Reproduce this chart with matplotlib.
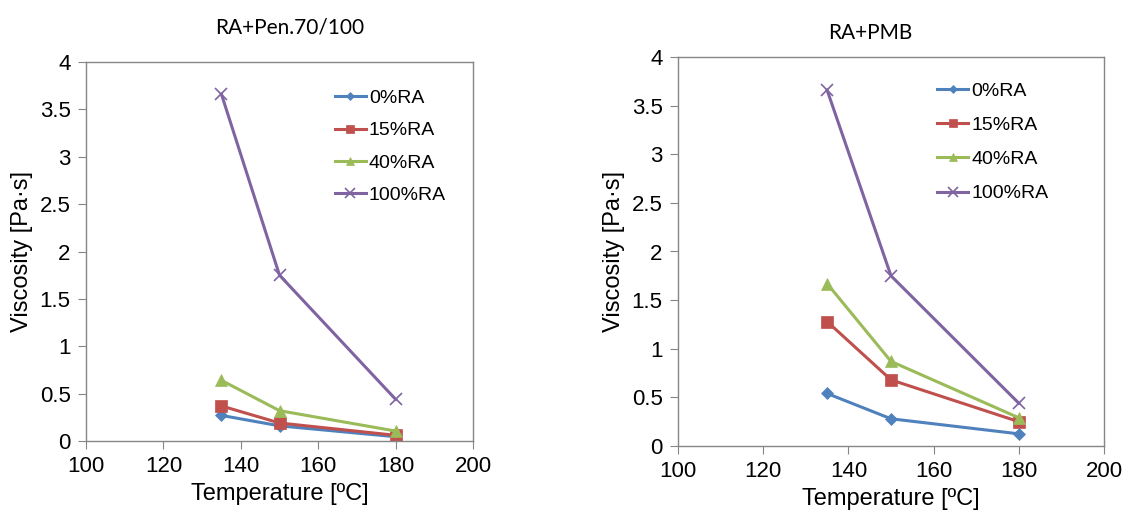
import matplotlib
matplotlib.use("Agg")
import matplotlib.pyplot as plt
from matplotlib.ticker import FuncFormatter

temps = [135, 150, 180]
labels = ["0%RA", "15%RA", "40%RA", "100%RA"]

# RA + Pen.70/100
pen_0 = [0.27, 0.16, 0.045]
pen_15 = [0.37, 0.19, 0.06]
pen_40 = [0.64, 0.32, 0.105]
pen_100 = [3.66, 1.75, 0.44]

# RA + PMB
pmb_0 = [0.54, 0.28, 0.125]
pmb_15 = [1.28, 0.68, 0.25]
pmb_40 = [1.67, 0.87, 0.29]
pmb_100 = [3.66, 1.75, 0.44]

colors = ["#4F81BD", "#C0504D", "#9BBB59", "#8064A2"]
markers = ["D", "s", "^", "x"]
msizes = [6, 8, 8, 9]

plt.rcParams['font.family'] = ['Liberation Sans', 'DejaVu Sans']
grey = "#868686"

fig = plt.figure(figsize=(11.34, 5.19), dpi=100)
ax1 = fig.add_axes([86/1134, 78/519, 387/1134, 379/519])
ax2 = fig.add_axes([678/1134, 73/519, 426/1134, 389/519])


def fmt(v, pos):
    return ("%g" % v)


def draw(ax, series, title, title_y, leg_anchor, spacing):
    for s, lab, c, m, ms in zip(series, labels, colors, markers, msizes):
        ax.plot(temps, s, color=c, marker=m, markersize=ms, linewidth=2.2,
                label=lab, markeredgewidth=1.2 if m == "x" else 0.5)
    ax.set_xlim(100, 200)
    ax.set_ylim(0, 4)
    ax.set_xticks(range(100, 201, 20))
    ax.set_yticks([i * 0.5 for i in range(9)])
    ax.yaxis.set_major_formatter(FuncFormatter(fmt))
    for sp in ax.spines.values():
        sp.set_color(grey)
        sp.set_linewidth(1.0)
    ax.tick_params(direction="out", length=6, color=grey, labelsize=16, pad=5)
    ax.set_xlabel("Temperature [ºC]", fontsize=17, labelpad=4)
    ax.set_ylabel("Viscosity [Pa·s]", fontsize=17, labelpad=5)
    fig.text(title_y[0], title_y[1], title, fontsize=15, ha="center", va="center",
             family=['Lato', 'DejaVu Sans'])
    ax.legend(loc="upper left", bbox_to_anchor=leg_anchor, frameon=False,
              fontsize=14, handlelength=1.6, labelspacing=spacing, handletextpad=0.15,
              borderaxespad=0, borderpad=0, markerscale=0.75)


draw(ax1, [pen_0, pen_15, pen_40, pen_100], "RA+Pen.70/100",
     (290/1134, 1 - 28/519), (0.643, 0.927), 0.75)
draw(ax2, [pmb_0, pmb_15, pmb_40, pmb_100], "RA+PMB",
     (870/1134, 1 - 33/519), (0.608, 0.935), 0.85)

fig.savefig("out.png", dpi=100)
